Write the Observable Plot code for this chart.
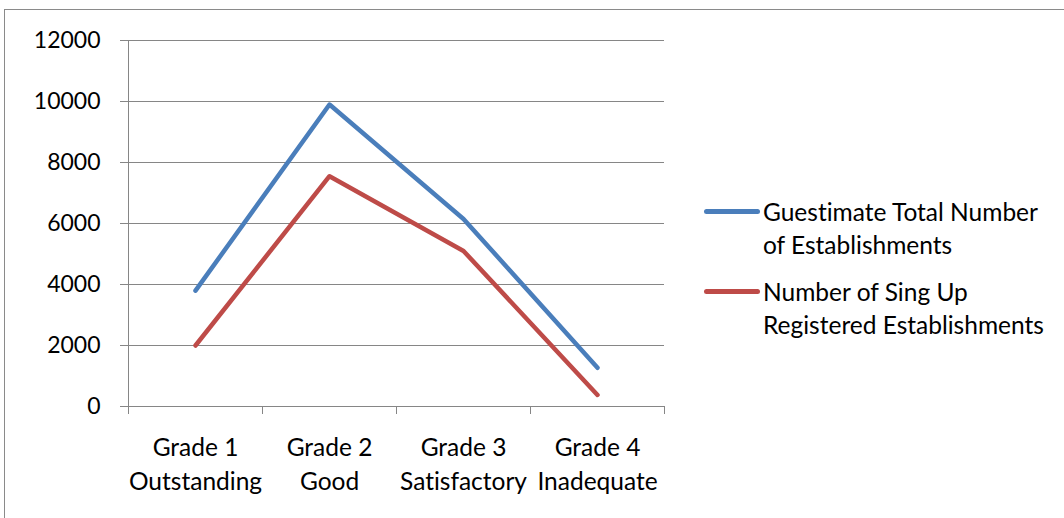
<!DOCTYPE html>
<html>
<head>
<meta charset="utf-8">
<script src="https://cdn.jsdelivr.net/npm/d3@7"></script>
<script src="https://cdn.jsdelivr.net/npm/@observablehq/plot@0.6"></script>
<style>
  html, body { margin: 0; padding: 0; background: #fff; }
  #wrap { position: relative; width: 1064px; height: 518px; overflow: hidden; font-family: Lato, "Open Sans", sans-serif; color: #000; font-variant-ligatures: none; font-feature-settings: "liga" 0; }
  #frame { position: absolute; left: 4px; top: 9px; width: 1200px; height: 700px; border-left: 1.5px solid #8a8a8a; border-top: 1.5px solid #8a8a8a; box-sizing: border-box; }
  #chart { position: absolute; left: 0; top: 0; }
  #chart svg text { font-variant-ligatures: none; font-feature-settings: "liga" 0; }
  .legend-item { position: absolute; left: 704px; }
  .legend-swatch { position: absolute; left: 0; width: 56px; height: 5px; border-radius: 2.5px; }
  .legend-text { position: absolute; left: 59px; white-space: nowrap; font-size: 24.5px; line-height: 33px; }
</style>
</head>
<body>
<div id="wrap">
  <div id="frame"></div>
  <div id="chart"></div>
  <div id="legend"></div>
</div>
<script>
// ---- data ----
const categories = ["Grade 1\nOutstanding", "Grade 2\nGood", "Grade 3\nSatisfactory", "Grade 4\nInadequate"];
const seriesLines = [
  ["Guestimate Total Number", "of Establishments"],
  ["Number of Sing Up", "Registered Establishments"]
];
const seriesNames = seriesLines.map(l => l.join(" "));
const guestimateTotal = [3800, 9900, 6150, 1270];
const singUpRegistered = [2000, 7550, 5100, 380];
const yTicks = [0, 2000, 4000, 6000, 8000, 10000, 12000];
const seriesColors = ["#4a7ebb", "#be4b48"];

// ---- table ----
const seriesValues = [guestimateTotal, singUpRegistered];
const rows = [];
seriesValues.forEach((vals, s) => vals.forEach((v, i) => rows.push({i, value: v, series: seriesNames[s]})));
const idx = d3.range(categories.length);
const boundaries = d3.range(categories.length + 1).map(i => i - 0.5);

const grid = "#868686";
const fsY = 23;
const fsX = 24.5;

const chart = Plot.plot({
  width: 1064,
  height: 518,
  marginLeft: 128,
  marginRight: 400,
  marginTop: 40,
  marginBottom: 112,
  style: {fontFamily: "Lato, 'Open Sans', sans-serif", fontSize: fsY + "px", color: "#000", background: "transparent", overflow: "visible"},
  x: {type: "linear", domain: [boundaries[0], boundaries[boundaries.length - 1]]},
  y: {domain: [0, d3.max(yTicks)]},
  color: {domain: seriesNames, range: seriesColors},
  marks: [
    Plot.gridY(yTicks, {stroke: grid, strokeOpacity: 1, strokeWidth: 1}),
    Plot.ruleX([boundaries[0]], {stroke: grid, strokeWidth: 1}),
    Plot.ruleY([0], {stroke: grid, strokeWidth: 1}),
    Plot.axisY(yTicks, {tickSize: 8, tickPadding: 20, stroke: grid, strokeOpacity: 1, tickFormat: d3.format("d"), fontSize: fsY, fill: "#000", label: null}),
    Plot.axisX(boundaries, {tickSize: 8, stroke: grid, strokeOpacity: 1, tickFormat: () => "", label: null}),
    Plot.axisX(idx, {tickSize: 0, tickPadding: 25, tickFormat: i => categories[i], fontSize: fsX, lineHeight: 1.4, fill: "#000", label: null}),
    Plot.line(rows, {x: "i", y: "value", z: "series", stroke: "series", strokeWidth: 4.5, strokeLinecap: "round", strokeLinejoin: "round"})
  ]
});
document.getElementById("chart").appendChild(chart);

// ---- legend ----
const legend = document.getElementById("legend");
const legendCenters = [211, 291];
seriesLines.forEach((lines, s) => {
  const item = document.createElement("div");
  item.className = "legend-item";
  item.style.top = legendCenters[s] + "px";
  const sw = document.createElement("div");
  sw.className = "legend-swatch";
  sw.style.background = seriesColors[s];
  sw.style.top = "-2.5px";
  const tx = document.createElement("div");
  tx.className = "legend-text";
  tx.style.top = "-16.5px";
  tx.innerHTML = lines.join("<br>");
  item.appendChild(sw);
  item.appendChild(tx);
  legend.appendChild(item);
});
</script>
</body>
</html>
